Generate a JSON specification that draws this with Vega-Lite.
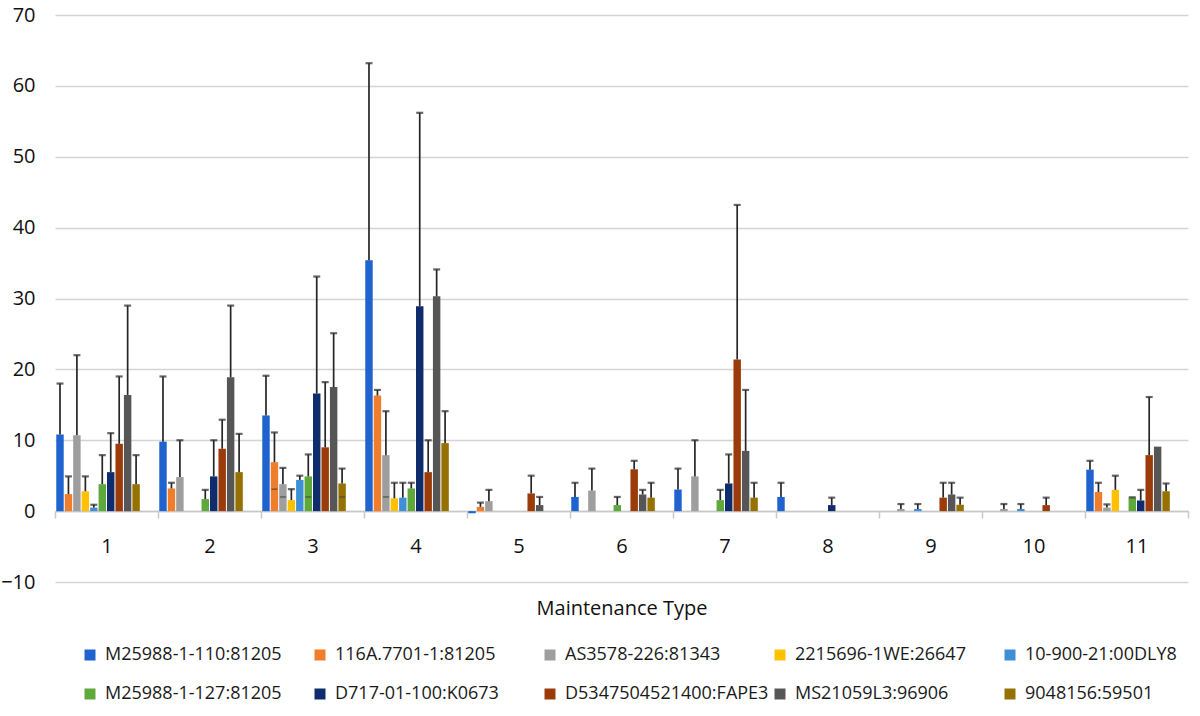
{
  "$schema": "https://vega.github.io/schema/vega-lite/v6.json",
  "width": 1133,
  "height": 567,
  "autosize": "none",
  "padding": {"left": 55, "top": 15, "right": 12, "bottom": 134},
  "background": "#ffffff",
  "config": {
    "font": "Open Sans",
    "view": {"stroke": null},
    "axis": {"labelColor": "#111111", "titleColor": "#111111", "labelFont": "Open Sans", "titleFont": "Open Sans"},
    "legend": {"labelFont": "Open Sans"}
  },
  "data": {
    "values": [
      {"t": 1, "s": "M25988-1-110:81205", "v": 10.8, "e": 18.0},
      {"t": 1, "s": "116A.7701-1:81205", "v": 2.4, "e": 4.9},
      {"t": 1, "s": "AS3578-226:81343", "v": 10.7, "e": 22.0},
      {"t": 1, "s": "2215696-1WE:26647", "v": 2.8, "e": 4.9},
      {"t": 1, "s": "10-900-21:00DLY8", "v": 0.5, "e": 0.9},
      {"t": 1, "s": "M25988-1-127:81205", "v": 3.8, "e": 7.9},
      {"t": 1, "s": "D717-01-100:K0673", "v": 5.5, "e": 11.0},
      {"t": 1, "s": "D5347504521400:FAPE3", "v": 9.5, "e": 19.0},
      {"t": 1, "s": "MS21059L3:96906", "v": 16.4, "e": 29.0},
      {"t": 1, "s": "9048156:59501", "v": 3.8, "e": 7.9},
      {"t": 2, "s": "M25988-1-110:81205", "v": 9.8, "e": 19.0},
      {"t": 2, "s": "116A.7701-1:81205", "v": 3.2, "e": 4.0},
      {"t": 2, "s": "AS3578-226:81343", "v": 4.8, "e": 10.0},
      {"t": 2, "s": "M25988-1-127:81205", "v": 1.7, "e": 3.0},
      {"t": 2, "s": "D717-01-100:K0673", "v": 4.9, "e": 10.0},
      {"t": 2, "s": "D5347504521400:FAPE3", "v": 8.8, "e": 12.9},
      {"t": 2, "s": "MS21059L3:96906", "v": 18.9, "e": 29.0},
      {"t": 2, "s": "9048156:59501", "v": 5.5, "e": 10.9},
      {"t": 3, "s": "M25988-1-110:81205", "v": 13.5, "e": 19.1},
      {"t": 3, "s": "116A.7701-1:81205", "v": 6.9, "e": 11.1, "lo": 3.1},
      {"t": 3, "s": "AS3578-226:81343", "v": 3.8, "e": 6.1, "lo": 2.0},
      {"t": 3, "s": "2215696-1WE:26647", "v": 1.55, "e": 3.1},
      {"t": 3, "s": "10-900-21:00DLY8", "v": 4.4, "e": 5.0},
      {"t": 3, "s": "M25988-1-127:81205", "v": 4.9, "e": 8.0, "lo": 2.0},
      {"t": 3, "s": "D717-01-100:K0673", "v": 16.6, "e": 33.1},
      {"t": 3, "s": "D5347504521400:FAPE3", "v": 9.0, "e": 18.2},
      {"t": 3, "s": "MS21059L3:96906", "v": 17.5, "e": 25.1},
      {"t": 3, "s": "9048156:59501", "v": 3.9, "e": 6.0, "lo": 2.0},
      {"t": 4, "s": "M25988-1-110:81205", "v": 35.4, "e": 63.2},
      {"t": 4, "s": "116A.7701-1:81205", "v": 16.3, "e": 17.1},
      {"t": 4, "s": "AS3578-226:81343", "v": 7.9, "e": 14.1, "lo": 2.0},
      {"t": 4, "s": "2215696-1WE:26647", "v": 1.8, "e": 4.0},
      {"t": 4, "s": "10-900-21:00DLY8", "v": 1.9, "e": 4.0},
      {"t": 4, "s": "M25988-1-127:81205", "v": 3.2, "e": 4.0},
      {"t": 4, "s": "D717-01-100:K0673", "v": 28.9, "e": 56.2},
      {"t": 4, "s": "D5347504521400:FAPE3", "v": 5.5, "e": 10.0},
      {"t": 4, "s": "MS21059L3:96906", "v": 30.3, "e": 34.1},
      {"t": 4, "s": "9048156:59501", "v": 9.6, "e": 14.1},
      {"t": 5, "s": "M25988-1-110:81205", "v": -0.3},
      {"t": 5, "s": "116A.7701-1:81205", "v": 0.6, "e": 1.2},
      {"t": 5, "s": "AS3578-226:81343", "v": 1.4, "e": 3.0},
      {"t": 5, "s": "D5347504521400:FAPE3", "v": 2.5, "e": 5.0},
      {"t": 5, "s": "MS21059L3:96906", "v": 0.85, "e": 2.0},
      {"t": 6, "s": "M25988-1-110:81205", "v": 2.0, "e": 4.0},
      {"t": 6, "s": "AS3578-226:81343", "v": 2.9, "e": 6.0},
      {"t": 6, "s": "M25988-1-127:81205", "v": 0.85, "e": 2.0},
      {"t": 6, "s": "D5347504521400:FAPE3", "v": 5.9, "e": 7.1},
      {"t": 6, "s": "MS21059L3:96906", "v": 2.35, "e": 3.0},
      {"t": 6, "s": "9048156:59501", "v": 1.9, "e": 4.0},
      {"t": 7, "s": "M25988-1-110:81205", "v": 3.05, "e": 6.0},
      {"t": 7, "s": "AS3578-226:81343", "v": 4.9, "e": 10.0},
      {"t": 7, "s": "M25988-1-127:81205", "v": 1.55, "e": 3.0},
      {"t": 7, "s": "D717-01-100:K0673", "v": 3.9, "e": 8.0},
      {"t": 7, "s": "D5347504521400:FAPE3", "v": 21.4, "e": 43.2},
      {"t": 7, "s": "MS21059L3:96906", "v": 8.5, "e": 17.1},
      {"t": 7, "s": "9048156:59501", "v": 1.9, "e": 4.0},
      {"t": 8, "s": "M25988-1-110:81205", "v": 2.0, "e": 4.0},
      {"t": 8, "s": "D717-01-100:K0673", "v": 0.85, "e": 1.9},
      {"t": 9, "s": "AS3578-226:81343", "v": 0.3, "e": 1.0},
      {"t": 9, "s": "10-900-21:00DLY8", "v": 0.3, "e": 1.0},
      {"t": 9, "s": "D5347504521400:FAPE3", "v": 1.9, "e": 4.0},
      {"t": 9, "s": "MS21059L3:96906", "v": 2.35, "e": 4.0},
      {"t": 9, "s": "9048156:59501", "v": 0.9, "e": 1.9},
      {"t": 10, "s": "AS3578-226:81343", "v": 0.3, "e": 1.0},
      {"t": 10, "s": "10-900-21:00DLY8", "v": 0.3, "e": 1.0},
      {"t": 10, "s": "D5347504521400:FAPE3", "v": 0.85, "e": 1.9},
      {"t": 11, "s": "M25988-1-110:81205", "v": 5.85, "e": 7.1},
      {"t": 11, "s": "116A.7701-1:81205", "v": 2.7, "e": 4.0},
      {"t": 11, "s": "AS3578-226:81343", "v": 0.5, "e": 0.95},
      {"t": 11, "s": "2215696-1WE:26647", "v": 3.0, "e": 5.0},
      {"t": 11, "s": "M25988-1-127:81205", "v": 1.9, "e": 1.95},
      {"t": 11, "s": "D717-01-100:K0673", "v": 1.5, "e": 3.0},
      {"t": 11, "s": "D5347504521400:FAPE3", "v": 7.9, "e": 16.1},
      {"t": 11, "s": "MS21059L3:96906", "v": 9.1},
      {"t": 11, "s": "9048156:59501", "v": 2.8, "e": 3.9}
    ]
  },
  "encoding": {
    "x": {
      "field": "t",
      "type": "ordinal",
      "title": "Maintenance Type",
      "scale": {"paddingInner": 0, "paddingOuter": 0},
      "axis": {
        "offset": -71,
        "labelAngle": 0,
        "labelFontSize": 20,
        "labelPadding": 18,
        "titleFontSize": 20,
        "titleFontWeight": "normal",
        "titlePadding": 42,
        "domainColor": "#c8c8c8",
        "domainWidth": 1.5,
        "tickColor": "#c8c8c8",
        "tickWidth": 1.5,
        "tickSize": 7,
        "tickBand": "extent"
      }
    },
    "xOffset": {
      "field": "s",
      "type": "nominal",
      "scale": {
        "domain": ["M25988-1-110:81205", "116A.7701-1:81205", "AS3578-226:81343", "2215696-1WE:26647", "10-900-21:00DLY8", "M25988-1-127:81205", "D717-01-100:K0673", "D5347504521400:FAPE3", "MS21059L3:96906", "9048156:59501", "_extra1", "_extra2"],
        "paddingInner": 0.12,
        "paddingOuter": 0.15
      }
    }
  },
  "layer": [
    {
      "mark": {"type": "bar"},
      "encoding": {
        "y": {
          "field": "v",
          "type": "quantitative",
          "title": null,
          "scale": {"domain": [-10, 70], "nice": false, "zero": true},
          "axis": {
            "values": [-10, 0, 10, 20, 30, 40, 50, 60, 70],
            "domain": false,
            "ticks": false,
            "labelFontSize": 20,
            "labelPadding": 20,
            "gridColor": "#d4d4d4",
            "gridWidth": 1.5
          }
        },
        "color": {
          "field": "s",
          "type": "nominal",
          "scale": {
            "domain": ["M25988-1-110:81205", "116A.7701-1:81205", "AS3578-226:81343", "2215696-1WE:26647", "10-900-21:00DLY8", "M25988-1-127:81205", "D717-01-100:K0673", "D5347504521400:FAPE3", "MS21059L3:96906", "9048156:59501"],
            "range": ["#1f63cf", "#ef7d2c", "#9e9e9e", "#ffc000", "#3f8fd6", "#5ea83c", "#0f2c6c", "#9c3b0a", "#565656", "#977100"]
          },
          "legend": {
            "title": null,
            "orient": "none",
            "legendX": 26,
            "legendY": 631,
            "direction": "horizontal",
            "columns": 5,
            "gridAlign": "all",
            "columnPadding": 2,
            "rowPadding": 21,
            "symbolType": "square",
            "symbolSize": 121,
            "symbolStrokeWidth": 0,
            "labelFontSize": 18,
            "labelOffset": 6,
            "labelColor": "#1a1a1a",
            "labelLimit": 400
          }
        }
      }
    },
    {
      "transform": [{"filter": "isValid(datum.e)"}],
      "mark": {"type": "rule", "color": "#262626", "strokeWidth": 1.7},
      "encoding": {
        "y": {"field": "v", "type": "quantitative"},
        "y2": {"field": "e"}
      }
    },
    {
      "transform": [{"filter": "isValid(datum.e)"}],
      "mark": {"type": "tick", "orient": "horizontal", "color": "#262626", "size": 7, "thickness": 2.2},
      "encoding": {
        "y": {"field": "e", "type": "quantitative"}
      }
    },
    {
      "transform": [{"filter": "isValid(datum.lo)"}],
      "mark": {"type": "tick", "orient": "horizontal", "color": "#444444", "size": 6, "thickness": 1.5},
      "encoding": {
        "y": {"field": "lo", "type": "quantitative"}
      }
    }
  ]
}
